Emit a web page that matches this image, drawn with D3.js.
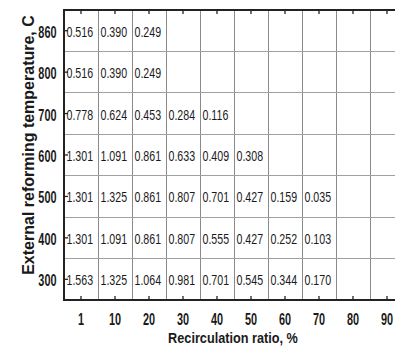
<!DOCTYPE html>
<html>
<head>
<meta charset="utf-8">
<script src="https://cdn.jsdelivr.net/npm/d3@7"></script>
<style>
  html, body { margin: 0; padding: 0; background: #fff; }
  svg { display: block; }
  text { font-family: "Liberation Sans", Arial, sans-serif; fill: #1a1a1a; }
</style>
</head>
<body>
<svg id="chart" width="395" height="347"></svg>
<script>
// ---- data ----
const ratios = [1, 10, 20, 30, 40, 50, 60, 70, 80, 90];           // Recirculation ratio, %
const temps = [300, 400, 500, 600, 700, 800, 860];                 // External reforming temperature, C
const row300 = [1.563, 1.325, 1.064, 0.981, 0.701, 0.545, 0.344, 0.170];
const row400 = [1.301, 1.091, 0.861, 0.807, 0.555, 0.427, 0.252, 0.103];
const row500 = [1.301, 1.325, 0.861, 0.807, 0.701, 0.427, 0.159, 0.035];
const row600 = [1.301, 1.091, 0.861, 0.633, 0.409, 0.308];
const row700 = [0.778, 0.624, 0.453, 0.284, 0.116];
const row800 = [0.516, 0.390, 0.249];
const row860 = [0.516, 0.390, 0.249];
const xTitle = "Recirculation ratio, %";
const yTitle = "External reforming temperature, C";

const rows = [row300, row400, row500, row600, row700, row800, row860];
const cells = [];
rows.forEach((r, i) => r.forEach((v, j) => cells.push({ t: temps[i], r: ratios[j], v })));

// ---- layout ----
const svg = d3.select("#chart");
const mLeft = 64, mRight = 404, mTop = 10, mBottom = 300;

const x = d3.scaleBand().domain(ratios).range([mLeft, mRight]).padding(0);
const y = d3.scaleBand().domain(temps).range([mBottom, mTop]).padding(0);

// grid lines (cell borders)
const grid = svg.append("g");
grid.selectAll("line.v")
  .data(ratios.slice(1))
  .join("line")
  .attr("class", "v")
  .attr("x1", d => x(d)).attr("x2", d => x(d))
  .attr("y1", mTop).attr("y2", mBottom)
  .attr("stroke", "#8a8a8a").attr("stroke-width", 1).attr("shape-rendering", "crispEdges");
grid.selectAll("line.h")
  .data(temps.slice(0, -1))
  .join("line")
  .attr("class", "h")
  .attr("y1", d => y(d)).attr("y2", d => y(d))
  .attr("x1", mLeft).attr("x2", mRight)
  .attr("stroke", "#a0a0a0").attr("stroke-width", 1).attr("shape-rendering", "crispEdges");

// cell values
svg.append("g").selectAll("text")
  .data(cells)
  .join("text")
  .attr("transform", d => `translate(${x(d.r) + 2.5},${y(d.t) + y.bandwidth() / 2 + 6}) scale(0.76,1)`)
  .attr("font-size", 14)
  .text(d => d3.format(".3f")(d.v));

// axes
const yAxis = svg.append("g").attr("transform", `translate(${mLeft},0)`)
  .call(d3.axisLeft(y).tickSizeInner(-4).tickSizeOuter(0));
const xAxis = svg.append("g").attr("transform", `translate(0,${mBottom})`)
  .call(d3.axisBottom(x).tickSizeInner(-4).tickSizeOuter(0));
const topAxis = svg.append("g").attr("transform", `translate(0,${mTop})`)
  .call(d3.axisTop(x).tickSizeInner(-4).tickSizeOuter(0).tickFormat(""));

[yAxis, xAxis, topAxis].forEach(g => {
  g.select(".domain").remove();
  g.selectAll(".tick line").attr("stroke", "#222").attr("stroke-width", 1.3);
});

yAxis.selectAll(".tick text")
  .attr("x", null).attr("y", null).attr("dy", null)
  .attr("text-anchor", "end")
  .attr("font-family", null).attr("font-size", 16).attr("font-weight", "bold").attr("fill", "#1a1a1a")
  .attr("transform", "translate(-7.5,7) scale(0.68,1)");
xAxis.selectAll(".tick text")
  .attr("x", null).attr("y", null).attr("dy", null)
  .attr("text-anchor", "middle")
  .attr("font-family", null).attr("font-size", 16).attr("font-weight", "bold").attr("fill", "#1a1a1a")
  .attr("transform", "translate(0,25) scale(0.68,1)");

// frame
const frame = svg.append("g").attr("stroke", "#222").attr("stroke-width", 2).attr("fill", "none");
frame.append("line").attr("x1", mLeft - 1).attr("x2", mRight).attr("y1", mTop).attr("y2", mTop);
frame.append("line").attr("x1", mLeft - 1).attr("x2", mRight).attr("y1", mBottom).attr("y2", mBottom);
frame.append("line").attr("x1", mLeft).attr("x2", mLeft).attr("y1", mTop).attr("y2", mBottom);
frame.append("line").attr("x1", mRight).attr("x2", mRight).attr("y1", mTop).attr("y2", mBottom);

// titles
svg.append("text")
  .attr("transform", `translate(${(mLeft + mRight) / 2 - 1},343) scale(0.82,1)`)
  .attr("text-anchor", "middle").attr("font-size", 15.5).attr("font-weight", "bold")
  .text(xTitle);
svg.append("text")
  .attr("transform", `translate(33.5,145) rotate(-90)`)
  .attr("text-anchor", "middle").attr("font-size", 16).attr("font-weight", "bold")
  .text(yTitle);
</script>
</body>
</html>
